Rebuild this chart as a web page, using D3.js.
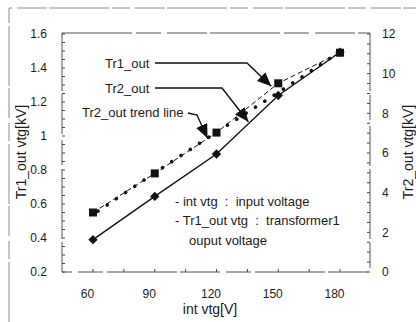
<!DOCTYPE html>
<html>
<head>
<meta charset="utf-8">
<script src="https://cdn.jsdelivr.net/npm/d3@7"></script>
<style>
  body { margin: 0; background: #fff; }
  text { font-family: "Liberation Sans", Arial, sans-serif; fill: #1a1a1a; }
</style>
</head>
<body>
<div id="chart"></div>
<script>
// input voltage vs transformer output voltages
var inVolt = [60, 90, 120, 150, 180];
var tr1Out = [0.55, 0.78, 1.02, 1.31, 1.49];      // left axis, kV
var tr2Out = [1.63, 3.81, 5.95, 8.9, 11.08];      // right axis, kV
var tr2Trend = [2.9, 5.0, 7.05, 9.05, 11.1];      // right axis, kV
var leftTicks = [0.2, 0.4, 0.6, 0.8, 1, 1.2, 1.4, 1.6];
var rightTicks = [0, 2, 4, 6, 8, 10, 12];

var W = 416, H = 322;
var box = {left: 62, right: 370, top: 33, bottom: 272};

var svg = d3.select("#chart").append("svg")
    .attr("width", W)
    .attr("height", H);

var x = d3.scaleLinear().domain([60, 180]).range([93, 340]);
var yL = d3.scaleLinear().domain([0.2, 1.6]).range([box.bottom, box.top + 1]);
var yR = d3.scaleLinear().domain([0, 12]).range([box.bottom, box.top + 1]);

// outer figure border (scanned look)
svg.append("path")
    .attr("d", "M9,322V8H416")
    .attr("fill", "none")
    .attr("stroke", "#8a8a8a")
    .attr("stroke-dasharray", "60,3,18,5,30,2")

// plot frame
svg.append("rect")
    .attr("x", box.left).attr("y", box.top)
    .attr("width", box.right - box.left)
    .attr("height", box.bottom - box.top)
    .attr("fill", "none")
    .attr("stroke", "#555")
    .attr("stroke-dasharray", "70,4,25,6,40,3")

// minor ticks, pointing inside
svg.append("g").selectAll("line")
    .data(d3.range(0.2, 1.601, 0.05))
    .enter().append("line")
    .attr("x1", box.left).attr("x2", box.left + 3)
    .attr("y1", function(d) { return yL(d); })
    .attr("y2", function(d) { return yL(d); })
    .attr("stroke", "#444")

svg.append("g").selectAll("line")
    .data(d3.range(0, 12.01, 0.5))
    .enter().append("line")
    .attr("x1", box.right).attr("x2", box.right - 3)
    .attr("y1", function(d) { return yR(d); })
    .attr("y2", function(d) { return yR(d); })
    .attr("stroke", "#444")

svg.append("g").selectAll("line")
    .data(d3.range(60, 181, 15))
    .enter().append("line")
    .attr("x1", function(d) { return x(d); })
    .attr("x2", function(d) { return x(d); })
    .attr("y1", box.bottom).attr("y2", box.bottom - 3)
    .attr("stroke", "#444")

// tick labels
var axL = svg.append("g")
    .attr("transform", "translate(" + box.left + ",0)")
    .call(d3.axisLeft(yL).tickValues(leftTicks).tickSize(0).tickPadding(15)
        .tickFormat(function(d) { return d === 1 ? "1" : d3.format(".1f")(d); }));
var axR = svg.append("g")
    .attr("transform", "translate(" + box.right + ",0)")
    .call(d3.axisRight(yR).tickValues(rightTicks).tickSize(0).tickPadding(12));
var axB = svg.append("g")
    .attr("transform", "translate(-6," + box.bottom + ")")
    .call(d3.axisBottom(x).tickValues(inVolt).tickSize(0).tickPadding(17));

[axL, axR, axB].forEach(function(a) {
  a.select(".domain").remove();
  a.selectAll("text")
      .style("font-family", "'Liberation Sans', Arial, sans-serif")
      .style("font-size", "12px")
      .attr("fill", "#1a1a1a");
});

// axis titles
svg.append("text")
    .attr("transform", "translate(21,152)rotate(-90)")
    .attr("text-anchor", "middle")
    .attr("dy", "0.35em")
    .style("font-size", "14px")
    .text("Tr1_out vtg[kV]")
svg.append("text")
    .attr("transform", "translate(408,152)rotate(-90)")
    .attr("text-anchor", "middle")
    .attr("dy", "0.35em")
    .style("font-size", "14px")
    .text("Tr2_out vtg[kV]")
svg.append("text")
    .attr("x", 210).attr("y", 314)
    .attr("text-anchor", "middle")
    .style("font-size", "14px")
    .text("int vtg[V]")

// lines
var pts1 = inVolt.map(function(v, i) { return [x(v), yL(tr1Out[i])]; });
var pts2 = inVolt.map(function(v, i) { return [x(v), yR(tr2Out[i])]; });
var ptsT = inVolt.map(function(v, i) { return [x(v), yR(tr2Trend[i])]; });
var line = d3.line();

svg.append("path")
    .attr("d", line(pts1))
    .attr("fill", "none")
    .attr("stroke", "#111")
    .attr("stroke-width", 1)
    .attr("stroke-dasharray", "5,3")

// trend line: dash + dot style
svg.append("path")
    .attr("d", line(ptsT))
    .attr("fill", "none")
    .attr("stroke", "#111")
    .attr("stroke-width", 3.6)
    .attr("stroke-linecap", "round")
    .attr("stroke-dasharray", "0.1,11")
    .attr("stroke-dashoffset", -6)

svg.append("path")
    .attr("d", line(pts2))
    .attr("fill", "none")
    .attr("stroke", "#111")
    .attr("stroke-width", 1.4)

// markers
svg.append("g").selectAll("path")
    .data(pts2)
    .enter().append("path")
    .attr("d", d3.symbol().type(d3.symbolDiamond2).size(56))
    .attr("transform", function(d) { return "translate(" + d[0] + "," + d[1] + ")"; })
    .attr("fill", "#111")

svg.append("g").selectAll("rect")
    .data(pts1)
    .enter().append("rect")
    .attr("x", function(d) { return d[0] - 4; })
    .attr("y", function(d) { return d[1] - 4; })
    .attr("width", 8).attr("height", 8)
    .attr("fill", "#111")

// annotation arrows
svg.append("defs").append("marker")
    .attr("id", "head")
    .attr("markerUnits", "userSpaceOnUse")
    .attr("markerWidth", 15).attr("markerHeight", 13)
    .attr("refX", 14).attr("refY", 6)
    .attr("orient", "auto")
  .append("path")
    .attr("d", "M0,0L14,6L0,12Z")
    .attr("fill", "#111")

function arrow(pts) {
  svg.append("path")
      .attr("d", d3.line()(pts))
      .attr("fill", "none")
      .attr("stroke", "#111")
      .attr("stroke-width", 1.4)
      .attr("marker-end", "url(#head)")
}
arrow([[155, 63], [247, 63], [x(150) - 7, yL(tr1Out[3]) + 3]]);
arrow([[155, 88], [222, 88], [(pts2[2][0] + pts2[3][0]) / 2 + 1, (pts2[2][1] + pts2[3][1]) / 2 - 3]]);
arrow([[188, 113], [197, 115], [x(120) - 9, yR(tr2Trend[2]) + 6]]);

var notes = [
  {t: "Tr1_out", x: 105, y: 68},
  {t: "Tr2_out", x: 105, y: 93},
  {t: "Tr2_out trend line", x: 82, y: 117}
];
svg.append("g").selectAll("text")
    .data(notes)
    .enter().append("text")
    .attr("x", function(d) { return d.x; })
    .attr("y", function(d) { return d.y; })
    .style("font-size", "13px")
    .text(function(d) { return d.t; })

// legend-like explanation
var expl = [
  {t: "- int vtg  :  input voltage", x: 175, y: 206},
  {t: "- Tr1_out vtg  :  transformer1", x: 175, y: 225},
  {t: "ouput voltage", x: 189, y: 245}
];
svg.append("g").selectAll("text")
    .data(expl)
    .enter().append("text")
    .attr("x", function(d) { return d.x; })
    .attr("y", function(d) { return d.y; })
    .style("font-size", "13px")
    .style("white-space", "pre")
    .text(function(d) { return d.t; })
</script>
</body>
</html>
